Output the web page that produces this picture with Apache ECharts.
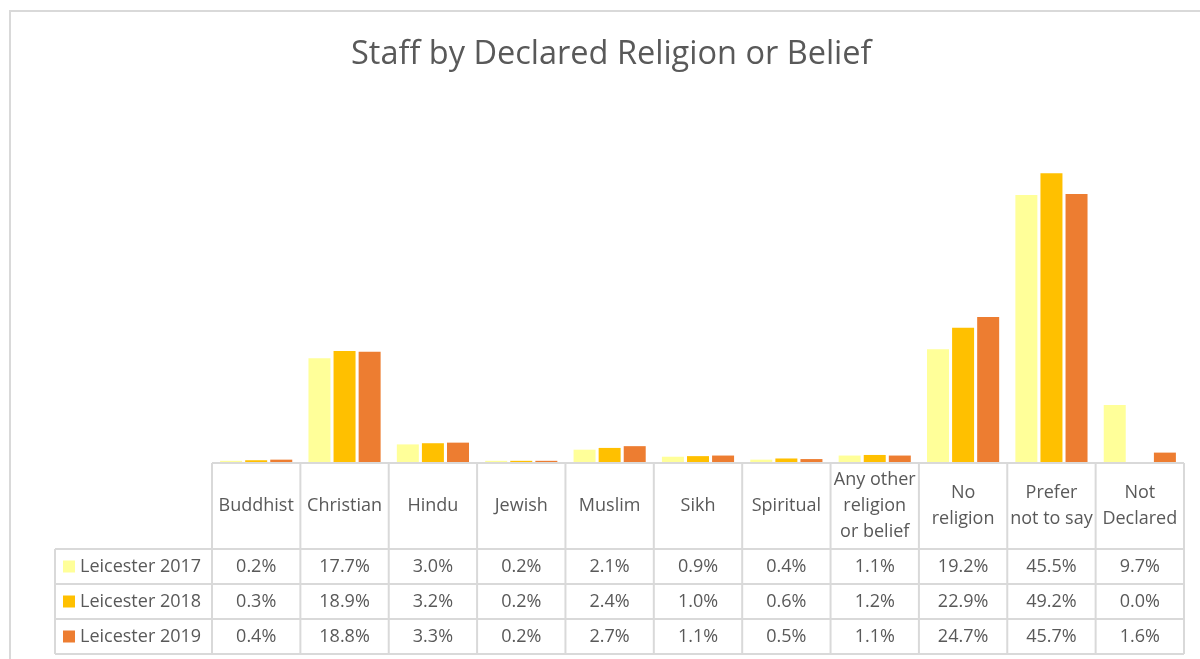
<!DOCTYPE html>
<html>
<head>
<meta charset="utf-8">
<script src="https://cdn.jsdelivr.net/npm/echarts@6/dist/echarts.min.js"></script>
<style>
html,body{margin:0;padding:0;background:#fff;}
#chart{width:1200px;height:659px;}
</style>
</head>
<body>
<div id="chart"></div>
<script>
const categories = ['Buddhist','Christian','Hindu','Jewish','Muslim','Sikh','Spiritual','Any other\nreligion\nor belief','No\nreligion','Prefer\nnot to say','Not\nDeclared'];
const seriesNames = ['Leicester 2017','Leicester 2018','Leicester 2019'];
const values2017 = [0.2,17.7,3.0,0.2,2.1,0.9,0.4,1.1,19.2,45.5,9.7];
const values2018 = [0.3,18.9,3.2,0.2,2.4,1.0,0.6,1.2,22.9,49.2,0.0];
const values2019 = [0.4,18.8,3.3,0.2,2.7,1.1,0.5,1.1,24.7,45.7,1.6];
const colors = ['#FFFF99','#FFC000','#ED7D31'];
const allValues = [values2017, values2018, values2019];

const FONT = 'Open Sans';
const TXT = '#595959';
const LINE = '#d9d9d9';

const chart = echarts.init(document.getElementById('chart'));
const option = {
  animation: false,
  backgroundColor: '#fff',
  title: {
    text: 'Staff by Declared Religion or Belief',
    left: 346, top: 33,
    textStyle: {fontFamily: FONT, fontSize: 32.5, fontWeight: 'normal', color: TXT}
  },
  grid: {left: 212, right: 16, top: 110, bottom: 197},
  xAxis: {
    type: 'category', data: categories,
    axisLine: {show: false}, axisTick: {show: false}, axisLabel: {show: false}
  },
  yAxis: {type: 'value', min: 0, max: 60, show: false, splitLine: {show: false}},
  series: seriesNames.map((n, i) => ({
    name: n, type: 'bar', data: allValues[i],
    barWidth: 22, barGap: '14%',
    itemStyle: {color: colors[i]}
  }))
};
chart.setOption(option);

// Build the data table below the plot
const c0 = chart.convertToPixel({xAxisIndex: 0}, 0);
const c1 = chart.convertToPixel({xAxisIndex: 0}, 1);
const bw = c1 - c0;
const x0 = c0 - bw / 2;
const xEnd = x0 + bw * categories.length;
const legX = 55;
const yTop = 463, yHead = 549, rowH = 35;
const yBottom = yHead + rowH * 3;
const g = [];
const lineStyle = {stroke: LINE, lineWidth: 2};
const tfont = '18px "' + FONT + '"';
// frame
g.push({type: 'polyline', shape: {points: [[1205, 11], [10, 11], [10, 665]]}, style: {stroke: LINE, lineWidth: 2, fill: null}, silent: true});
// horizontal lines
g.push({type: 'line', shape: {x1: x0, y1: yTop, x2: xEnd, y2: yTop}, style: lineStyle});
for (let r = 0; r <= 3; r++) {
  const y = yHead + r * rowH;
  g.push({type: 'line', shape: {x1: legX, y1: y, x2: xEnd, y2: y}, style: lineStyle});
}
// vertical lines
g.push({type: 'line', shape: {x1: legX, y1: yHead, x2: legX, y2: yBottom}, style: lineStyle});
for (let k = 0; k <= categories.length; k++) {
  const x = x0 + k * bw;
  g.push({type: 'line', shape: {x1: x, y1: yTop, x2: x, y2: yBottom}, style: lineStyle});
}
// header
categories.forEach((cat, k) => {
  g.push({type: 'text', x: x0 + (k + 0.5) * bw, y: (yTop + yHead) / 2,
    style: {text: cat, fill: TXT, font: tfont, align: 'center', verticalAlign: 'middle', lineHeight: 26}});
});
// rows
seriesNames.forEach((n, r) => {
  const yc = yHead + (r + 0.5) * rowH;
  g.push({type: 'rect', shape: {x: 63, y: yc - 6, width: 12, height: 12}, style: {fill: colors[r]}});
  g.push({type: 'text', x: 80, y: yc, style: {text: n, fill: TXT, font: tfont, align: 'left', verticalAlign: 'middle'}});
  allValues[r].forEach((v, k) => {
    g.push({type: 'text', x: x0 + (k + 0.5) * bw, y: yc,
      style: {text: v.toFixed(1) + '%', fill: TXT, font: tfont, align: 'center', verticalAlign: 'middle'}});
  });
});
chart.setOption({graphic: {elements: g}});
</script>
</body>
</html>
